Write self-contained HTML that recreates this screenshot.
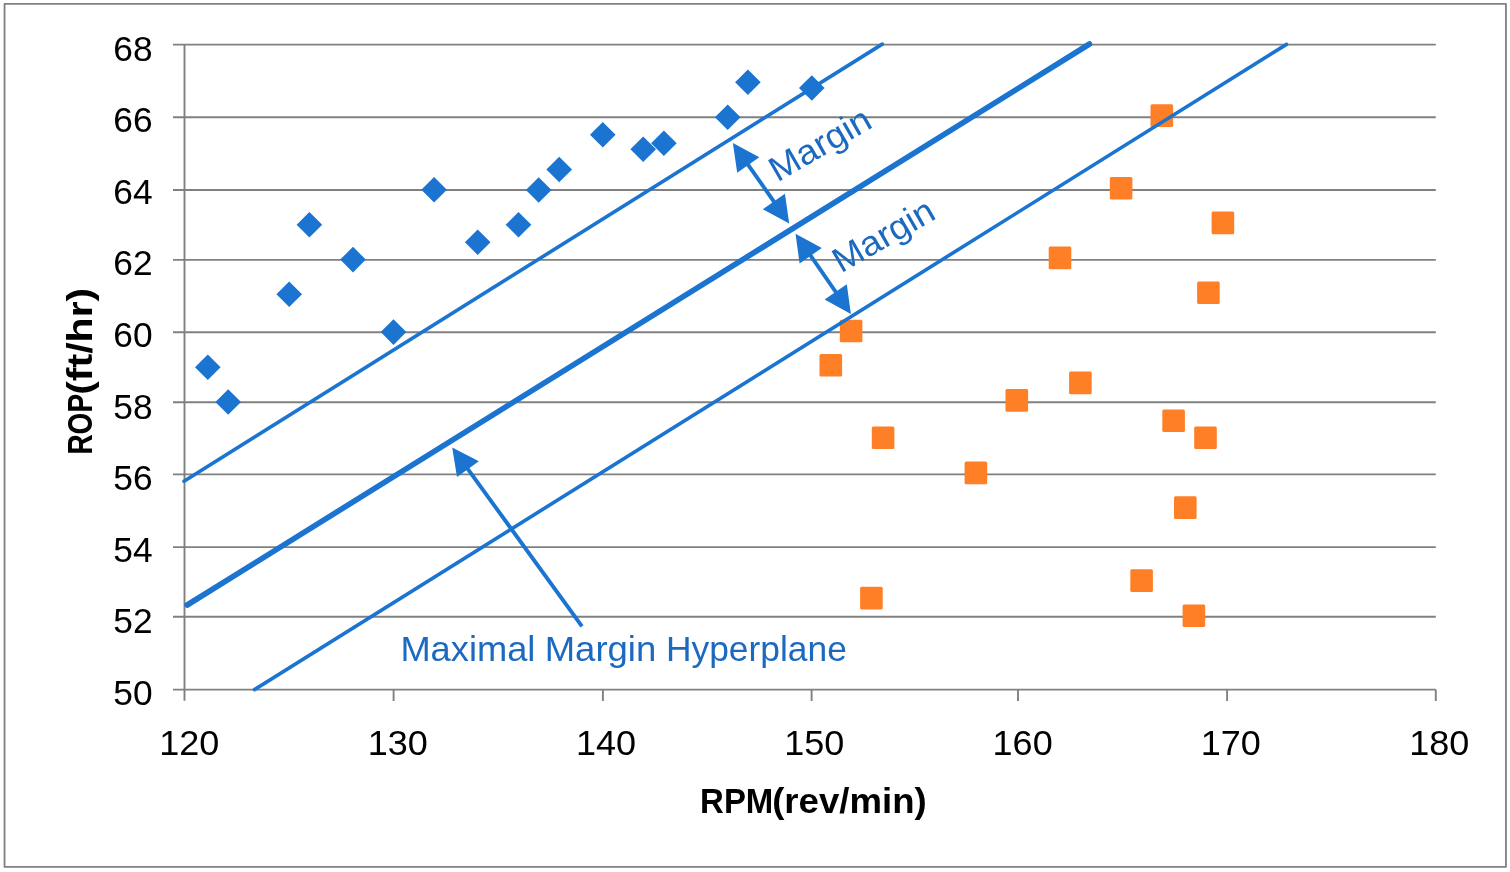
<!DOCTYPE html>
<html lang="en"><head><meta charset="utf-8"><title>SVM maximal margin hyperplane</title>
<style>html,body{margin:0;padding:0;background:#fff}body{width:1510px;height:872px;overflow:hidden}svg{display:block}text{font-family:"Liberation Sans", sans-serif}</style>
</head><body>
<svg width="1510" height="872" viewBox="0 0 1510 872">
<rect x="0" y="0" width="1510" height="872" fill="#fff"/>
<rect x="4.55" y="3.9" width="1501.4" height="863.05" fill="none" stroke="#808080" stroke-width="1.8" stroke-linejoin="round"/>
<g stroke="#808080" stroke-width="1.9" fill="none">
<line x1="173" y1="44.6" x2="1435.8" y2="44.6"/>
<line x1="173" y1="117.2" x2="1435.8" y2="117.2"/>
<line x1="173" y1="190.0" x2="1435.8" y2="190.0"/>
<line x1="173" y1="259.9" x2="1435.8" y2="259.9"/>
<line x1="173" y1="332.2" x2="1435.8" y2="332.2"/>
<line x1="173" y1="402.2" x2="1435.8" y2="402.2"/>
<line x1="173" y1="474.4" x2="1435.8" y2="474.4"/>
<line x1="173" y1="547.1" x2="1435.8" y2="547.1"/>
<line x1="173" y1="616.7" x2="1435.8" y2="616.7"/>
<line x1="173" y1="689.6" x2="1435.8" y2="689.6"/>
<line x1="184.5" y1="44.6" x2="184.5" y2="700.8"/>
<line x1="393.6" y1="689.6" x2="393.6" y2="701.0"/>
<line x1="602.9" y1="689.6" x2="602.9" y2="701.0"/>
<line x1="811.6" y1="689.6" x2="811.6" y2="701.0"/>
<line x1="1018.0" y1="689.6" x2="1018.0" y2="701.0"/>
<line x1="1227.1" y1="689.6" x2="1227.1" y2="701.0"/>
<line x1="1435.8" y1="689.6" x2="1435.8" y2="701.0"/>
</g>
<g fill="#1a74d0">
<path d="M207.8 354.4L220.6 367.2L207.8 380.0L195.0 367.2Z"/>
<path d="M228.2 389.2L241.0 402.0L228.2 414.8L215.4 402.0Z"/>
<path d="M289.2 281.4L302.0 294.2L289.2 307.0L276.4 294.2Z"/>
<path d="M309.4 211.9L322.2 224.7L309.4 237.5L296.6 224.7Z"/>
<path d="M353.0 246.8L365.8 259.6L353.0 272.4L340.2 259.6Z"/>
<path d="M393.5 319.3L406.3 332.1L393.5 344.9L380.7 332.1Z"/>
<path d="M434.1 177.0L446.9 189.8L434.1 202.6L421.3 189.8Z"/>
<path d="M477.7 229.4L490.5 242.2L477.7 255.0L464.9 242.2Z"/>
<path d="M518.5 212.0L531.3 224.8L518.5 237.6L505.7 224.8Z"/>
<path d="M538.7 177.2L551.5 190.0L538.7 202.8L525.9 190.0Z"/>
<path d="M559.2 156.7L572.0 169.5L559.2 182.3L546.4 169.5Z"/>
<path d="M602.8 121.9L615.6 134.7L602.8 147.5L590.0 134.7Z"/>
<path d="M643.2 136.5L656.0 149.3L643.2 162.1L630.4 149.3Z"/>
<path d="M663.9 130.5L676.7 143.3L663.9 156.1L651.1 143.3Z"/>
<path d="M727.7 104.5L740.5 117.3L727.7 130.1L714.9 117.3Z"/>
<path d="M747.9 69.4L760.7 82.2L747.9 95.0L735.1 82.2Z"/>
<path d="M811.8 75.2L824.6 88.0L811.8 100.8L799.0 88.0Z"/>
</g>
<g fill="#ff7f27">
<rect x="839.8" y="319.7" width="22.6" height="22.6" rx="1.5"/>
<rect x="819.5" y="354.0" width="22.6" height="22.6" rx="1.5"/>
<rect x="871.8" y="426.5" width="22.6" height="22.6" rx="1.5"/>
<rect x="860.1" y="586.8" width="22.6" height="22.6" rx="1.5"/>
<rect x="964.6" y="461.6" width="22.6" height="22.6" rx="1.5"/>
<rect x="1005.5" y="389.1" width="22.6" height="22.6" rx="1.5"/>
<rect x="1069.1" y="371.6" width="22.6" height="22.6" rx="1.5"/>
<rect x="1162.3" y="409.4" width="22.6" height="22.6" rx="1.5"/>
<rect x="1194.2" y="426.5" width="22.6" height="22.6" rx="1.5"/>
<rect x="1174.0" y="496.3" width="22.6" height="22.6" rx="1.5"/>
<rect x="1130.3" y="569.3" width="22.6" height="22.6" rx="1.5"/>
<rect x="1182.6" y="604.4" width="22.6" height="22.6" rx="1.5"/>
<rect x="1150.5" y="104.3" width="22.6" height="22.6" rx="1.5"/>
<rect x="1109.8" y="176.9" width="22.6" height="22.6" rx="1.5"/>
<rect x="1211.6" y="211.6" width="22.6" height="22.6" rx="1.5"/>
<rect x="1048.7" y="246.6" width="22.6" height="22.6" rx="1.5"/>
<rect x="1197.1" y="281.5" width="22.6" height="22.6" rx="1.5"/>
</g>
<g stroke="#1a74d0" fill="none" stroke-linecap="round">
<line x1="184.0" y1="481.2" x2="882.3" y2="44.1" stroke-width="3.6"/>
<line x1="187.2" y1="605.0" x2="1089.5" y2="44.0" stroke-width="5.6"/>
<line x1="254.4" y1="689.6" x2="1286.5" y2="44.4" stroke-width="3.6"/>
</g>
<g fill="#1a74d0">
<path d="M732.9 143.0L737.2 172.7L759.3 157.2Z"/>
<path d="M789.2 223.4L762.8 209.2L784.9 193.7Z"/>
<line x1="747.1" y1="163.3" x2="775.0" y2="203.1" stroke="#1a74d0" stroke-width="3.9"/>
<path d="M795.5 233.7L799.6 263.4L821.8 248.1Z"/>
<path d="M850.9 313.9L824.6 299.5L846.8 284.2Z"/>
<line x1="809.6" y1="254.1" x2="836.8" y2="293.5" stroke="#1a74d0" stroke-width="3.9"/>
<path d="M452.2 447.5L457.0 477.1L478.9 461.3Z"/>
<line x1="466.8" y1="467.6" x2="582.0" y2="626.4" stroke="#1a74d0" stroke-width="3.9"/>
</g>
<text x="113.3" y="60.8" font-size="35.4" font-weight="normal" fill="#000" textLength="39.3" lengthAdjust="spacingAndGlyphs">68</text>
<text x="113.3" y="132.3" font-size="35.4" font-weight="normal" fill="#000" textLength="39.3" lengthAdjust="spacingAndGlyphs">66</text>
<text x="113.3" y="203.9" font-size="35.4" font-weight="normal" fill="#000" textLength="39.3" lengthAdjust="spacingAndGlyphs">64</text>
<text x="113.3" y="275.4" font-size="35.4" font-weight="normal" fill="#000" textLength="39.3" lengthAdjust="spacingAndGlyphs">62</text>
<text x="113.3" y="347.0" font-size="35.4" font-weight="normal" fill="#000" textLength="39.3" lengthAdjust="spacingAndGlyphs">60</text>
<text x="113.3" y="418.6" font-size="35.4" font-weight="normal" fill="#000" textLength="39.3" lengthAdjust="spacingAndGlyphs">58</text>
<text x="113.3" y="490.1" font-size="35.4" font-weight="normal" fill="#000" textLength="39.3" lengthAdjust="spacingAndGlyphs">56</text>
<text x="113.3" y="561.6" font-size="35.4" font-weight="normal" fill="#000" textLength="39.3" lengthAdjust="spacingAndGlyphs">54</text>
<text x="113.3" y="633.2" font-size="35.4" font-weight="normal" fill="#000" textLength="39.3" lengthAdjust="spacingAndGlyphs">52</text>
<text x="113.3" y="704.7" font-size="35.4" font-weight="normal" fill="#000" textLength="39.3" lengthAdjust="spacingAndGlyphs">50</text>
<text x="159.3" y="754.9" font-size="35.4" font-weight="normal" fill="#000" textLength="60.1" lengthAdjust="spacingAndGlyphs">120</text>
<text x="367.7" y="754.9" font-size="35.4" font-weight="normal" fill="#000" textLength="60.1" lengthAdjust="spacingAndGlyphs">130</text>
<text x="576.0" y="754.9" font-size="35.4" font-weight="normal" fill="#000" textLength="60.1" lengthAdjust="spacingAndGlyphs">140</text>
<text x="784.3" y="754.9" font-size="35.4" font-weight="normal" fill="#000" textLength="60.1" lengthAdjust="spacingAndGlyphs">150</text>
<text x="992.6" y="754.9" font-size="35.4" font-weight="normal" fill="#000" textLength="60.1" lengthAdjust="spacingAndGlyphs">160</text>
<text x="1200.8" y="754.9" font-size="35.4" font-weight="normal" fill="#000" textLength="60.1" lengthAdjust="spacingAndGlyphs">170</text>
<text x="1409.2" y="754.9" font-size="35.4" font-weight="normal" fill="#000" textLength="60.1" lengthAdjust="spacingAndGlyphs">180</text>
<text y="813.3" font-size="35.0" font-weight="bold" fill="#000"><tspan x="700.1" y="813.3" textLength="73.2" lengthAdjust="spacingAndGlyphs">RPM</tspan><tspan x="772.2" y="813.3" textLength="154.5" lengthAdjust="spacingAndGlyphs">(rev/min)</tspan></text>
<g transform="translate(92.2,454.6) rotate(-90)"><text y="0.0" font-size="35.0" font-weight="bold" fill="#000"><tspan x="0.0" y="0.0" textLength="60.7" lengthAdjust="spacingAndGlyphs">ROP</tspan><tspan x="59.8" y="0.0" textLength="107.1" lengthAdjust="spacingAndGlyphs">(ft/hr)</tspan></text></g>
<text y="661.3" font-size="34.6" font-weight="normal" fill="#1c69c0"><tspan x="400.4" y="661.3" textLength="135.0" lengthAdjust="spacingAndGlyphs">Maximal</tspan> <tspan x="544.7" y="661.3" textLength="111.6" lengthAdjust="spacingAndGlyphs">Margin</tspan> <tspan x="666.0" y="661.3" textLength="180.8" lengthAdjust="spacingAndGlyphs">Hyperplane</tspan></text>
<g transform="translate(777.5,182.4) rotate(-30)"><text x="0.0" y="0.0" font-size="35.0" font-weight="normal" fill="#1c69c0" textLength="111.6" lengthAdjust="spacingAndGlyphs">Margin</text></g>
<g transform="translate(841.0,273.6) rotate(-30)"><text x="0.0" y="0.0" font-size="35.0" font-weight="normal" fill="#1c69c0" textLength="111.6" lengthAdjust="spacingAndGlyphs">Margin</text></g>
</svg>
</body></html>
